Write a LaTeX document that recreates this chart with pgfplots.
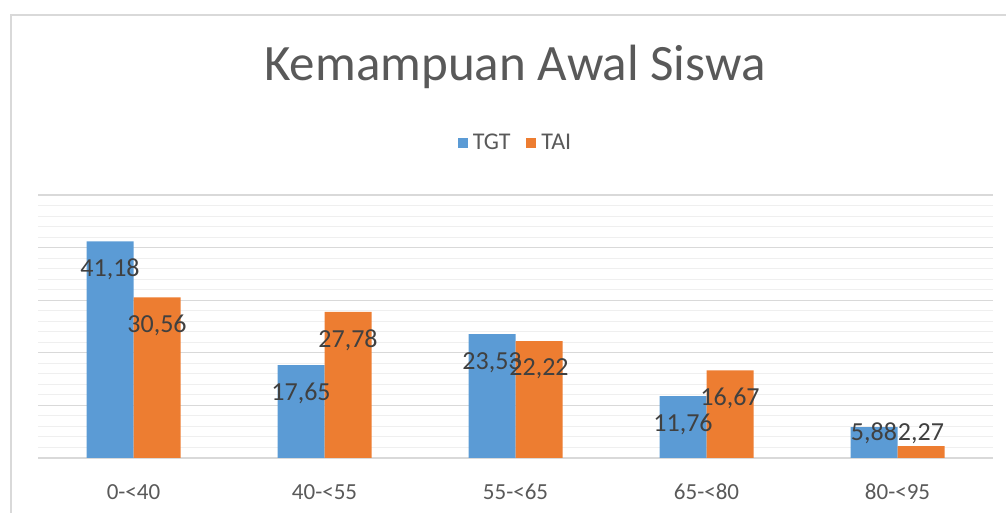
\documentclass[border=0pt]{standalone}
\usepackage{fontspec}
\setmainfont{Carlito}
\usepackage{pgfplots}
\usepackage{pgfplotstable}
\pgfplotsset{compat=1.18}
\definecolor{tgt}{HTML}{5B9BD5}
\definecolor{tai}{HTML}{ED7D31}
\definecolor{txt}{HTML}{595959}
\definecolor{lbl}{HTML}{404040}
\definecolor{gmaj}{HTML}{D9D9D9}
\definecolor{gmin}{HTML}{EFEFEF}
\pgfplotstableread{
x y off label
0 41.18 -28 41,18
1 17.65 -28 17,65
2 23.53 -28 23,53
3 11.76 -28 11,76
4 5.88 -6.5 5,88
}\tgtdata
\pgfplotstableread{
x y off label
0 30.56 -28 30,56
1 27.78 -28 27,78
2 22.22 -28 22,22
3 16.67 -28 16,67
4 2.27 12.5 2,27
}\taidata
\begin{document}
\begin{tikzpicture}
\useasboundingbox (0pt,0pt) rectangle (1006pt,513pt);
\draw[gmaj, line width=1.5pt] (11pt,0pt) -- (11pt,498pt) -- (1006pt,498pt);
\node[anchor=base, text=txt, font=\fontsize{51}{60}\selectfont] at (515pt,432pt) {Kemampuan Awal Siswa};
\begin{axis}[
  at={(38pt,55pt)}, anchor=south west,
  scale only axis, width=955pt, height=263pt,
  ymin=0, ymax=50, xmin=-0.5, xmax=4.5,
  ytick={0,10,...,50}, minor y tick num=4,
  yticklabels={},
  ymajorgrids, yminorgrids,
  major grid style={gmaj, line width=1.3pt},
  minor grid style={gmin, line width=1pt},
  axis line style={draw=none},
  tick style={draw=none},
  major tick length=0pt, minor tick length=0pt,
  xtick=data,
  xticklabels={0-<40,40-<55,55-<65,65-<80,80-<95},
  xticklabel style={anchor=base, yshift=-42pt, text=txt, font=\fontsize{23}{27}\selectfont},
  ybar=0pt, bar width=47pt,
  point meta=explicit symbolic,
  nodes near coords,
  visualization depends on={\thisrow{off} \as \off},
  every node near coord/.append style={anchor=center, yshift=\off pt, text=lbl, font=\fontsize{26}{30}\selectfont},
  legend style={at={(0.5,1.198)}, anchor=center, draw=none, fill=none,
    legend columns=2, font=\fontsize{24}{28}\selectfont, text=txt,
    /tikz/every odd column/.append style={column sep=3pt},
    /tikz/every even column/.append style={column sep=14pt}},
  legend image code/.code={\fill[#1] (0pt,-5pt) rectangle (10pt,5pt);},
]
\addplot[fill=tgt, draw=none] table[x=x, y=y, meta=label] {\tgtdata};
\addplot[fill=tai, draw=none] table[x=x, y=y, meta=label] {\taidata};
\legend{TGT, TAI}
\end{axis}
\end{tikzpicture}
\end{document}
